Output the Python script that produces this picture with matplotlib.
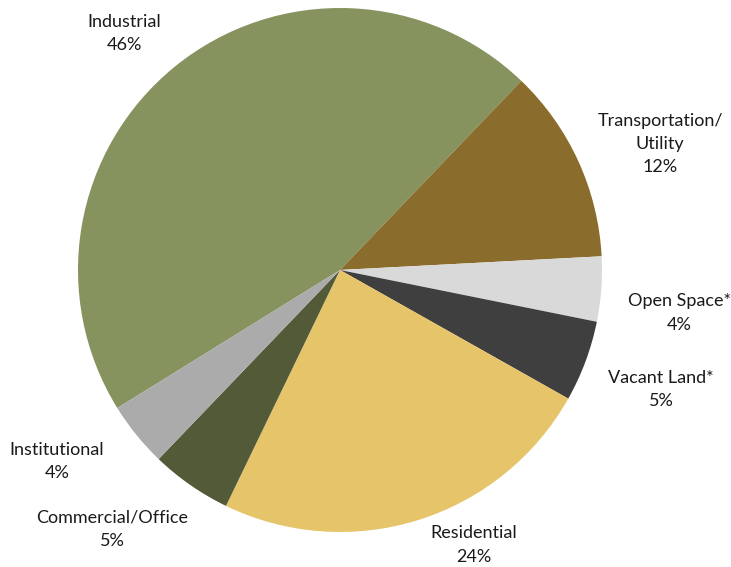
import matplotlib.pyplot as plt

categories = ["Industrial", "Transportation/\nUtility", "Open Space*", "Vacant Land*",
              "Residential", "Commercial/Office", "Institutional"]
shares = [46, 12, 4, 5, 24, 5, 4]
colours = ["#86935E", "#8A6D2D", "#D9D9D9", "#3F3F3F", "#E6C46A", "#525A38", "#ABABAB"]
# label block centre (x, y from the top) in pixel space
label_pos = [(124, 33.5), (660, 144), (679, 313), (661, 389.5), (474, 545), (112, 529.5), (57, 461.5)]

plt.rcParams["font.family"] = ["Lato", "DejaVu Sans"]

H = 567
fig = plt.figure(figsize=(7.31, 5.67), dpi=100)
ax = fig.add_axes([0, 0, 1, 1])
ax.pie(shares, colors=colours, startangle=211.8, counterclock=False,
       center=(340, H - 270), radius=262, wedgeprops={"linewidth": 0})
ax.set_xlim(0, 731)
ax.set_ylim(0, H)
ax.set_aspect("equal")
ax.axis("off")

for name, value, (x, y) in zip(categories, shares, label_pos):
    ax.text(x, H - y, f"{name}\n{value}%", ha="center", va="center",
            fontsize=13, color="#1a1a1a", linespacing=1.55)

fig.savefig("out.png", dpi=100)
